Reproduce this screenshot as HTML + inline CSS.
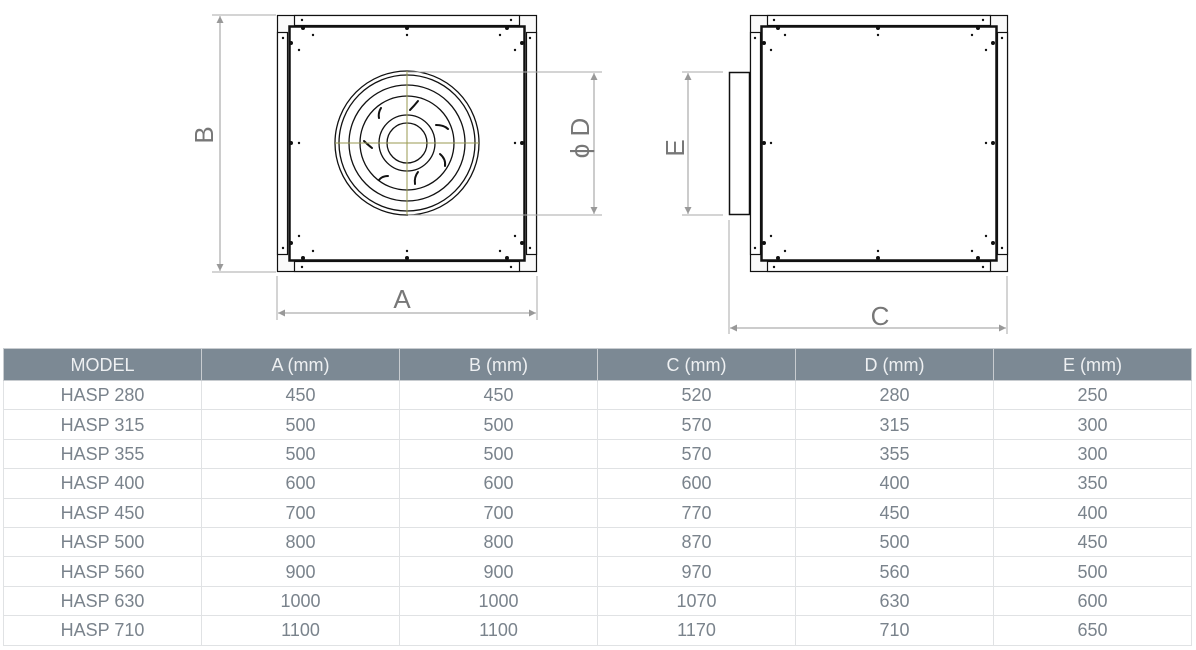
<!DOCTYPE html>
<html><head><style>
body{margin:0;width:1196px;height:650px;background:#fff;overflow:hidden;font-family:"Liberation Sans",sans-serif}
svg{position:absolute;left:0;top:0}
table{position:absolute;left:3px;top:348px;border-collapse:collapse;width:1189px;table-layout:fixed}
td,th{border:1px solid #e0e2e4;text-align:center;color:#7a838c;font-size:18px;font-weight:normal;height:28.4px;padding:0;line-height:20px}
th{background:#7c8994;color:#eef0f2;height:31px;border-color:#c8ccd0}
</style></head><body>
<svg width="1196" height="345" viewBox="0 0 1196 345">
<defs><marker id="ar" viewBox="0 0 10 10" refX="10" refY="5" markerWidth="10" markerHeight="7" orient="auto-start-reverse" markerUnits="userSpaceOnUse"><path d="M0,0L10,5L0,10z" fill="#999"/></marker></defs>
<g stroke="#111" fill="none">
<rect x="277.5" y="15.5" width="259" height="256" stroke-width="1.2" fill="#fafafa"/>
<rect x="294.5" y="15.5" width="225" height="10" stroke-width="1.2" fill="#fff"/>
<rect x="294.5" y="261.5" width="225" height="10" stroke-width="1.2" fill="#fff"/>
<rect x="277.5" y="32.5" width="10" height="222" stroke-width="1.2" fill="#fff"/>
<rect x="526.5" y="32.5" width="10" height="222" stroke-width="1.2" fill="#fff"/>
<rect x="289.5" y="26.5" width="235" height="234" stroke-width="2.5" fill="#fff"/>
<circle cx="407" cy="143" r="72" stroke-width="1.3"/>
<circle cx="407" cy="143" r="68" stroke-width="1.3"/>
<circle cx="407" cy="143" r="58" stroke-width="1.3"/>
<circle cx="407" cy="143" r="47" stroke-width="1.3"/>
<circle cx="407" cy="143" r="28" stroke-width="1.3"/>
<circle cx="407" cy="143" r="20" stroke-width="1.3"/>
<g stroke-width="2" stroke-linecap="round">
<path d="M410,110 q4,-4 8,-9"/><path d="M436,125 q8,0 12,4"/><path d="M440,154 q6,5 5,12"/><path d="M418,172 q-4,5 -3,12"/><path d="M388,176 q-6,0 -9,4"/><path d="M372,148 q-5,-4 -8,-7"/><path d="M381,108 q-3,5 -2,10"/>
</g>
</g>
<g stroke="#9a9a50" stroke-width="1"><line x1="335" y1="143" x2="479" y2="143"/><line x1="407" y1="71" x2="407" y2="215"/></g>
<g fill="#111">
<circle cx="303" cy="28" r="2"/><circle cx="407" cy="28" r="2"/><circle cx="507" cy="28" r="2"/>
<circle cx="303" cy="258" r="2"/><circle cx="407" cy="258" r="2"/><circle cx="507" cy="258" r="2"/>
<circle cx="291" cy="43" r="2"/><circle cx="291" cy="143" r="2"/><circle cx="291" cy="243" r="2"/>
<circle cx="522" cy="43" r="2"/><circle cx="522" cy="143" r="2"/><circle cx="522" cy="243" r="2"/>
<circle cx="302" cy="20" r="1.2"/><circle cx="511" cy="20" r="1.2"/><circle cx="302" cy="267" r="1.2"/><circle cx="511" cy="267" r="1.2"/>
<circle cx="283" cy="38" r="1.2"/><circle cx="283" cy="248" r="1.2"/><circle cx="530" cy="38" r="1.2"/><circle cx="530" cy="248" r="1.2"/>
<circle cx="313" cy="35" r="1.2"/><circle cx="407" cy="35" r="1.2"/><circle cx="500" cy="35" r="1.2"/>
<circle cx="313" cy="251" r="1.2"/><circle cx="407" cy="251" r="1.2"/><circle cx="500" cy="251" r="1.2"/>
<circle cx="299" cy="50" r="1.2"/><circle cx="299" cy="143" r="1.2"/><circle cx="299" cy="236" r="1.2"/>
<circle cx="515" cy="50" r="1.2"/><circle cx="515" cy="143" r="1.2"/><circle cx="515" cy="236" r="1.2"/>
</g>
<g stroke="#111" fill="none">
<rect x="729.5" y="72.5" width="20" height="142" stroke-width="1.5" fill="#fff"/>
<rect x="750.5" y="15.5" width="257" height="256" stroke-width="1.2" fill="#fafafa"/>
<rect x="767.5" y="15.5" width="223" height="10" stroke-width="1.2" fill="#fff"/>
<rect x="767.5" y="261.5" width="223" height="10" stroke-width="1.2" fill="#fff"/>
<rect x="750.5" y="32.5" width="10" height="222" stroke-width="1.2" fill="#fff"/>
<rect x="997.5" y="32.5" width="10" height="222" stroke-width="1.2" fill="#fff"/>
<rect x="761.5" y="26.5" width="235" height="234" stroke-width="2.5" fill="#fff"/>
</g>
<g fill="#111">
<circle cx="778" cy="28" r="2"/><circle cx="878" cy="28" r="2"/><circle cx="978" cy="28" r="2"/>
<circle cx="778" cy="258" r="2"/><circle cx="878" cy="258" r="2"/><circle cx="978" cy="258" r="2"/>
<circle cx="764" cy="43" r="2"/><circle cx="764" cy="143" r="2"/><circle cx="764" cy="243" r="2"/>
<circle cx="993" cy="43" r="2"/><circle cx="993" cy="143" r="2"/><circle cx="993" cy="243" r="2"/>
<circle cx="774" cy="20" r="1.2"/><circle cx="983" cy="20" r="1.2"/><circle cx="774" cy="267" r="1.2"/><circle cx="983" cy="267" r="1.2"/>
<circle cx="755" cy="38" r="1.2"/><circle cx="755" cy="248" r="1.2"/><circle cx="1002" cy="38" r="1.2"/><circle cx="1002" cy="248" r="1.2"/>
<circle cx="785" cy="35" r="1.2"/><circle cx="878" cy="35" r="1.2"/><circle cx="972" cy="35" r="1.2"/>
<circle cx="785" cy="251" r="1.2"/><circle cx="878" cy="251" r="1.2"/><circle cx="972" cy="251" r="1.2"/>
<circle cx="771" cy="50" r="1.2"/><circle cx="771" cy="143" r="1.2"/><circle cx="771" cy="236" r="1.2"/>
<circle cx="986" cy="50" r="1.2"/><circle cx="986" cy="143" r="1.2"/><circle cx="986" cy="236" r="1.2"/>
</g>
<g stroke="#aaa" stroke-width="1" fill="none">
<line x1="212" y1="15" x2="276" y2="15"/><line x1="212" y1="272" x2="276" y2="272"/>
<line x1="220" y1="16" x2="220" y2="271" marker-start="url(#ar)" marker-end="url(#ar)" stroke="#999"/>
<line x1="277" y1="276" x2="277" y2="320"/><line x1="537" y1="276" x2="537" y2="320"/>
<line x1="278" y1="313" x2="536" y2="313" marker-start="url(#ar)" marker-end="url(#ar)" stroke="#999"/>
<line x1="408" y1="72" x2="602" y2="72"/><line x1="408" y1="215" x2="602" y2="215"/>
<line x1="594" y1="73" x2="594" y2="214" marker-start="url(#ar)" marker-end="url(#ar)" stroke="#999"/>
<line x1="682" y1="72" x2="723" y2="72"/><line x1="682" y1="215" x2="723" y2="215"/>
<line x1="688" y1="73" x2="688" y2="214" marker-start="url(#ar)" marker-end="url(#ar)" stroke="#999"/>
<line x1="729" y1="220" x2="729" y2="334"/><line x1="1007" y1="276" x2="1007" y2="334"/>
<line x1="730" y1="328" x2="1006" y2="328" marker-start="url(#ar)" marker-end="url(#ar)" stroke="#999"/>
</g>
<g fill="#777" font-size="26" text-anchor="middle">
<text x="402" y="308">A</text>
<text x="880" y="325">C</text>
<text transform="translate(213,135) rotate(-90)">B</text>
<text transform="translate(684,148) rotate(-90)">E</text>
<text transform="translate(589,138) rotate(-90)">ϕ D</text>
</g>
</svg>
<table>
<tr><th>MODEL</th><th>A (mm)</th><th>B (mm)</th><th>C (mm)</th><th>D (mm)</th><th>E (mm)</th></tr>
<tr><td>HASP 280</td><td>450</td><td>450</td><td>520</td><td>280</td><td>250</td></tr>
<tr><td>HASP 315</td><td>500</td><td>500</td><td>570</td><td>315</td><td>300</td></tr>
<tr><td>HASP 355</td><td>500</td><td>500</td><td>570</td><td>355</td><td>300</td></tr>
<tr><td>HASP 400</td><td>600</td><td>600</td><td>600</td><td>400</td><td>350</td></tr>
<tr><td>HASP 450</td><td>700</td><td>700</td><td>770</td><td>450</td><td>400</td></tr>
<tr><td>HASP 500</td><td>800</td><td>800</td><td>870</td><td>500</td><td>450</td></tr>
<tr><td>HASP 560</td><td>900</td><td>900</td><td>970</td><td>560</td><td>500</td></tr>
<tr><td>HASP 630</td><td>1000</td><td>1000</td><td>1070</td><td>630</td><td>600</td></tr>
<tr><td>HASP 710</td><td>1100</td><td>1100</td><td>1170</td><td>710</td><td>650</td></tr>
</table>
</body></html>
